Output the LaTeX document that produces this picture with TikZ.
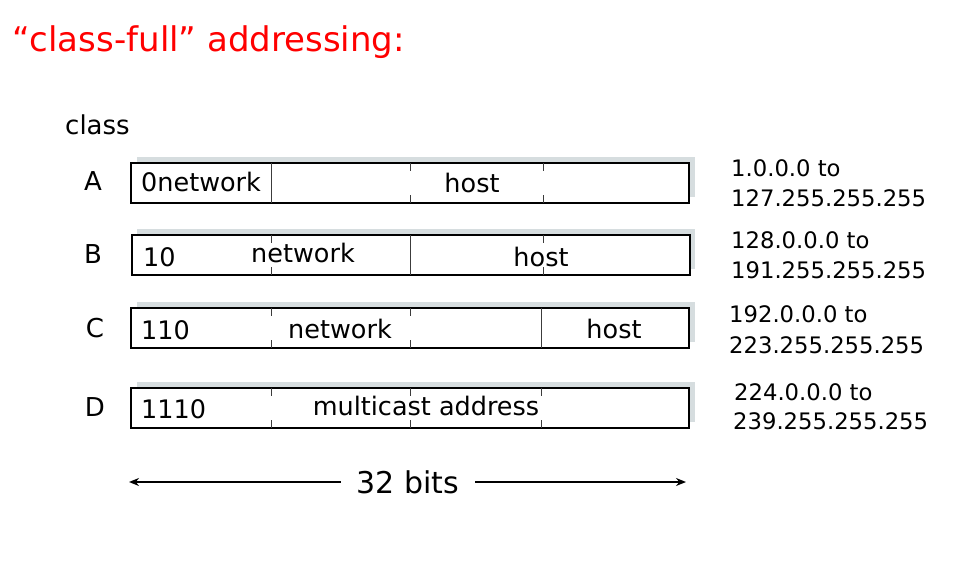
\documentclass[tikz,border=0pt]{standalone}
\usepackage{fontspec}
\setmainfont{DejaVu Sans}
\usetikzlibrary{arrows.meta}
\definecolor{titlered}{RGB}{255,0,0}
\definecolor{shadowgray}{RGB}{214,221,223}
\definecolor{sepgray}{RGB}{60,60,60}
\newcommand\fsz[1]{\fontsize{#1}{#1}\selectfont}
\newcommand\fullsep[2]{\draw[sepline] (#2,0 |- #1.north) -- (#2,0 |- #1.south);}
\newcommand\ticksep[2]{\draw[sepline] (#2,0 |- #1.north) -- ++(0,8); \draw[sepline] (#2,0 |- #1.south) -- ++(0,-8);}
\tikzset{
  addrbox/.style={draw=black, line width=2.4pt, fill=white, rectangle, outer sep=0pt, inner sep=0pt, minimum width=558pt, minimum height=40pt},
  sepline/.style={draw=sepgray, line width=1pt},
  boxtext/.style={font=\fsz{25.5}, anchor=base, inner sep=0pt},
  rowlabel/.style={font=\fsz{26}, anchor=base, inner sep=0pt},
  rangetext/.style={font=\fsz{22.7}, anchor=base west, inner sep=0pt},
  bitsarrow/.style={line width=1.7pt, -{Stealth[length=10pt,width=8pt]}}
}
\begin{document}
\begin{tikzpicture}[x=1pt,y=-1pt]
\useasboundingbox (0,0) rectangle (956,580);
% title
\node[font=\fsz{34}, text=titlered, anchor=base west, inner sep=0pt] (title) at (12,52) {“class-full” addressing:};
\node[font=\fsz{26}, anchor=base west, inner sep=0pt] (classlbl) at (65,135) {class};
% shadows
\foreach \cy in {183,255,328,408}{
  \fill[shadowgray] (137,\cy-26) rectangle (695,\cy+14);
}
% boxes
\node[addrbox] (boxA) at (410,183) {};
\node[addrbox] (boxB) at (411,255) {};
\node[addrbox] (boxC) at (410,328) {};
\node[addrbox] (boxD) at (410,408) {};
% separators
\fullsep{boxA}{271} \ticksep{boxA}{410} \ticksep{boxA}{543}
\ticksep{boxB}{271} \fullsep{boxB}{410} \ticksep{boxB}{543}
\ticksep{boxC}{271} \ticksep{boxC}{410} \fullsep{boxC}{541}
\ticksep{boxD}{271} \ticksep{boxD}{410} \ticksep{boxD}{541}
% row labels
\node[rowlabel] (lA) at (93,191) {A};
\node[rowlabel] (lB) at (93,263) {B};
\node[rowlabel] (lC) at (95,337) {C};
\node[rowlabel] (lD) at (95,416) {D};
% box texts
\node[boxtext, anchor=base west] (tA1) at (141,192) {0network};
\node[boxtext] (tA2) at (472,193) {host};
\node[boxtext, anchor=base west] (tB1) at (143,266) {10};
\node[boxtext] (tB2) at (303,262) {network};
\node[boxtext] (tB3) at (541,266) {host};
\node[boxtext, anchor=base west] (tC1) at (141,339) {110};
\node[boxtext] (tC2) at (340,338) {network};
\node[boxtext] (tC3) at (614,338) {host};
\node[boxtext, anchor=base west] (tD1) at (141,418) {1110};
\node[boxtext] (tD2) at (426,415) {multicast address};
% ranges
\node[rangetext] (rA1) at (731,177) {1.0.0.0 to};
\node[rangetext] (rA2) at (731,207) {127.255.255.255};
\node[rangetext] (rB1) at (731,249) {128.0.0.0 to};
\node[rangetext] (rB2) at (731,279) {191.255.255.255};
\node[rangetext] (rC1) at (729,322) {192.0.0.0 to};
\node[rangetext] (rC2) at (729,353) {223.255.255.255};
\node[rangetext] (rD1) at (734,400) {224.0.0.0 to};
\node[rangetext] (rD2) at (733,429) {239.255.255.255};
% 32 bits
\coordinate (bitsL) at (129,482);
\coordinate (bitsR) at (686,482);
\node[font=\fsz{30}, inner xsep=16pt, inner ysep=0pt] (bits) at (408,482) {32 bits};
\draw[bitsarrow] (bits.west |- bitsL) -- (bitsL);
\draw[bitsarrow] (bits.east |- bitsR) -- (bitsR);
\end{tikzpicture}
\end{document}
